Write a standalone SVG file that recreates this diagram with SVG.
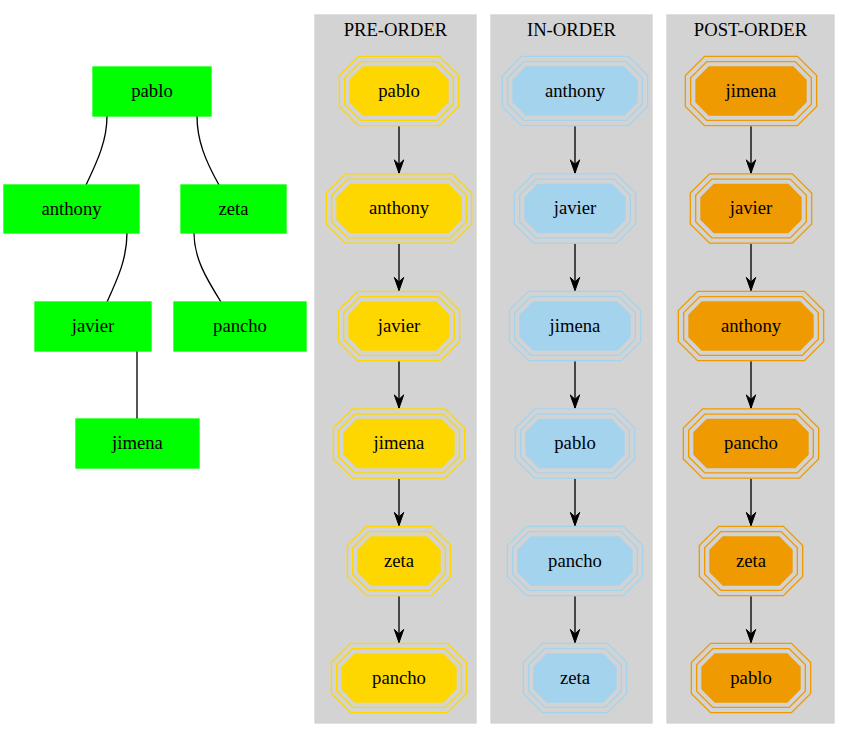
<svg xmlns="http://www.w3.org/2000/svg" xmlns:xlink="http://www.w3.org/1999/xlink" width="849" height="740" viewBox="0 0 849 740">
  <style>
    text { font-family: "Liberation Serif", "Times New Roman", serif; font-size: 18.67px; fill: #000; stroke: none; text-anchor: middle; }
    .box { fill: #00ff00; stroke: #00ff00; stroke-width: 1.33; }
    .cluster { fill: #d3d3d3; stroke: #d3d3d3; stroke-width: 1.33; }
    .tree-edge { fill: none; stroke: #000; stroke-width: 1.33; }
    .order-edge { fill: none; stroke: #000; stroke-width: 1.33; marker-end: url(#vee); }
    /* triple-periphery octagons: outer rings drawn as layered strokes of one outline */
    .ring3 { fill: none; stroke-width: 22.67; }
    .gap3 { fill: none; stroke: #d3d3d3; stroke-width: 20; }
    .ring2 { fill: none; stroke-width: 12; }
    .gap2 { fill: none; stroke: #d3d3d3; stroke-width: 9.33; }
    .core { stroke-width: 1.33; }
    .pre { fill: #ffd700; stroke: #ffd700; }
    .in { fill: #a4d3ee; stroke: #a4d3ee; }
    .post { fill: #ee9a00; stroke: #ee9a00; }
  </style>
  <defs>
    <marker id="vee" markerUnits="userSpaceOnUse" markerWidth="16" markerHeight="12" viewBox="0 -6 14 12" refX="13.3" refY="0" orient="auto">
      <path d="M0,-4.7 L13.3,0 L0,4.7 L4.4,0 Z" fill="#000" stroke="#000" stroke-width="1"/>
    </marker>
    <polygon id="oct-zeta" points="-28,-24 28,-24 41,-11 41,11 28,24 -28,24 -41,11 -41,-11"/>
    <polygon id="oct-pablo" points="-36,-24 36,-24 49,-11 49,11 36,24 -36,24 -49,11 -49,-11"/>
    <polygon id="oct-javier" points="-37,-24 37,-24 50,-11 50,11 37,24 -37,24 -50,11 -50,-11"/>
    <polygon id="oct-jimena" points="-42,-24 42,-24 55,-11 55,11 42,24 -42,24 -55,11 -55,-11"/>
    <polygon id="oct-pancho" points="-44,-24 44,-24 57,-11 57,11 44,24 -44,24 -57,11 -57,-11"/>
    <polygon id="oct-anthony" points="-49,-24 49,-24 62,-11 62,11 49,24 -49,24 -62,11 -62,-11"/>
  </defs>

  <rect width="849" height="740" fill="#ffffff"/>

  <!-- traversal clusters -->
  <g id="cluster_pre">
    <rect class="cluster" x="315" y="15" width="161" height="708"/>
    <text x="395.5" y="35.5">PRE-ORDER</text>
  </g>
  <g id="cluster_in">
    <rect class="cluster" x="491" y="15" width="161" height="708"/>
    <text x="571.5" y="35.5">IN-ORDER</text>
  </g>
  <g id="cluster_post">
    <rect class="cluster" x="667" y="15" width="167" height="708"/>
    <text x="750.5" y="35.5">POST-ORDER</text>
  </g>

  <!-- connectors -->
  <g id="edges">
    <path class="tree-edge" d="M107,116 C107,140 98,160 86,185"/>
    <path class="tree-edge" d="M197,116 C197,140 205,160 219,185"/>
    <path class="tree-edge" d="M127,233 C127,258 118,278 107,302"/>
    <path class="tree-edge" d="M194,233 C194,258 206,278 221,302"/>
    <path class="tree-edge" d="M137,351 L137,419"/>

    <path class="order-edge" d="M399,126.3 L399,173.2"/>
    <path class="order-edge" d="M399,243.8 L399,290.7"/>
    <path class="order-edge" d="M399,361.3 L399,408.2"/>
    <path class="order-edge" d="M399,478.8 L399,525.7"/>
    <path class="order-edge" d="M399,596.3 L399,642.7"/>

    <path class="order-edge" d="M575,126.3 L575,173.2"/>
    <path class="order-edge" d="M575,243.8 L575,290.7"/>
    <path class="order-edge" d="M575,361.3 L575,408.2"/>
    <path class="order-edge" d="M575,478.8 L575,525.7"/>
    <path class="order-edge" d="M575,596.3 L575,642.7"/>

    <path class="order-edge" d="M751,126.3 L751,173.2"/>
    <path class="order-edge" d="M751,243.8 L751,290.7"/>
    <path class="order-edge" d="M751,361.3 L751,408.2"/>
    <path class="order-edge" d="M751,478.8 L751,525.7"/>
    <path class="order-edge" d="M751,596.3 L751,642.7"/>
  </g>

  <!-- binary tree -->
  <g id="tree_pablo"><rect class="box" x="93" y="67" width="118" height="49"/><text x="152" y="97">pablo</text></g>
  <g id="tree_anthony"><rect class="box" x="4" y="185" width="135" height="48"/><text x="71.5" y="214.5">anthony</text></g>
  <g id="tree_zeta"><rect class="box" x="181" y="185" width="105" height="48"/><text x="233.5" y="214.5">zeta</text></g>
  <g id="tree_javier"><rect class="box" x="35" y="302" width="116" height="49"/><text x="93" y="332">javier</text></g>
  <g id="tree_pancho"><rect class="box" x="174" y="302" width="132" height="49"/><text x="240" y="332">pancho</text></g>
  <g id="tree_jimena"><rect class="box" x="76" y="419" width="123" height="49"/><text x="137.5" y="449">jimena</text></g>

  <!-- pre-order -->
  <g id="pre_pablo" class="pre" transform="translate(399,91)">
    <use xlink:href="#oct-pablo" class="ring3"/><use xlink:href="#oct-pablo" class="gap3"/><use xlink:href="#oct-pablo" class="ring2"/><use xlink:href="#oct-pablo" class="gap2"/><use xlink:href="#oct-pablo" class="core"/>
    <text y="5.5">pablo</text>
  </g>
  <g id="pre_anthony" class="pre" transform="translate(399,208.5)">
    <use xlink:href="#oct-anthony" class="ring3"/><use xlink:href="#oct-anthony" class="gap3"/><use xlink:href="#oct-anthony" class="ring2"/><use xlink:href="#oct-anthony" class="gap2"/><use xlink:href="#oct-anthony" class="core"/>
    <text y="5.5">anthony</text>
  </g>
  <g id="pre_javier" class="pre" transform="translate(399,326)">
    <use xlink:href="#oct-javier" class="ring3"/><use xlink:href="#oct-javier" class="gap3"/><use xlink:href="#oct-javier" class="ring2"/><use xlink:href="#oct-javier" class="gap2"/><use xlink:href="#oct-javier" class="core"/>
    <text y="5.5">javier</text>
  </g>
  <g id="pre_jimena" class="pre" transform="translate(399,443.5)">
    <use xlink:href="#oct-jimena" class="ring3"/><use xlink:href="#oct-jimena" class="gap3"/><use xlink:href="#oct-jimena" class="ring2"/><use xlink:href="#oct-jimena" class="gap2"/><use xlink:href="#oct-jimena" class="core"/>
    <text y="5.5">jimena</text>
  </g>
  <g id="pre_zeta" class="pre" transform="translate(399,561)">
    <use xlink:href="#oct-zeta" class="ring3"/><use xlink:href="#oct-zeta" class="gap3"/><use xlink:href="#oct-zeta" class="ring2"/><use xlink:href="#oct-zeta" class="gap2"/><use xlink:href="#oct-zeta" class="core"/>
    <text y="5.5">zeta</text>
  </g>
  <g id="pre_pancho" class="pre" transform="translate(399,678)">
    <use xlink:href="#oct-pancho" class="ring3"/><use xlink:href="#oct-pancho" class="gap3"/><use xlink:href="#oct-pancho" class="ring2"/><use xlink:href="#oct-pancho" class="gap2"/><use xlink:href="#oct-pancho" class="core"/>
    <text y="5.5">pancho</text>
  </g>

  <!-- in-order -->
  <g id="in_anthony" class="in" transform="translate(575,91)">
    <use xlink:href="#oct-anthony" class="ring3"/><use xlink:href="#oct-anthony" class="gap3"/><use xlink:href="#oct-anthony" class="ring2"/><use xlink:href="#oct-anthony" class="gap2"/><use xlink:href="#oct-anthony" class="core"/>
    <text y="5.5">anthony</text>
  </g>
  <g id="in_javier" class="in" transform="translate(575,208.5)">
    <use xlink:href="#oct-javier" class="ring3"/><use xlink:href="#oct-javier" class="gap3"/><use xlink:href="#oct-javier" class="ring2"/><use xlink:href="#oct-javier" class="gap2"/><use xlink:href="#oct-javier" class="core"/>
    <text y="5.5">javier</text>
  </g>
  <g id="in_jimena" class="in" transform="translate(575,326)">
    <use xlink:href="#oct-jimena" class="ring3"/><use xlink:href="#oct-jimena" class="gap3"/><use xlink:href="#oct-jimena" class="ring2"/><use xlink:href="#oct-jimena" class="gap2"/><use xlink:href="#oct-jimena" class="core"/>
    <text y="5.5">jimena</text>
  </g>
  <g id="in_pablo" class="in" transform="translate(575,443.5)">
    <use xlink:href="#oct-pablo" class="ring3"/><use xlink:href="#oct-pablo" class="gap3"/><use xlink:href="#oct-pablo" class="ring2"/><use xlink:href="#oct-pablo" class="gap2"/><use xlink:href="#oct-pablo" class="core"/>
    <text y="5.5">pablo</text>
  </g>
  <g id="in_pancho" class="in" transform="translate(575,561)">
    <use xlink:href="#oct-pancho" class="ring3"/><use xlink:href="#oct-pancho" class="gap3"/><use xlink:href="#oct-pancho" class="ring2"/><use xlink:href="#oct-pancho" class="gap2"/><use xlink:href="#oct-pancho" class="core"/>
    <text y="5.5">pancho</text>
  </g>
  <g id="in_zeta" class="in" transform="translate(575,678)">
    <use xlink:href="#oct-zeta" class="ring3"/><use xlink:href="#oct-zeta" class="gap3"/><use xlink:href="#oct-zeta" class="ring2"/><use xlink:href="#oct-zeta" class="gap2"/><use xlink:href="#oct-zeta" class="core"/>
    <text y="5.5">zeta</text>
  </g>

  <!-- post-order -->
  <g id="post_jimena" class="post" transform="translate(751,91)">
    <use xlink:href="#oct-jimena" class="ring3"/><use xlink:href="#oct-jimena" class="gap3"/><use xlink:href="#oct-jimena" class="ring2"/><use xlink:href="#oct-jimena" class="gap2"/><use xlink:href="#oct-jimena" class="core"/>
    <text y="5.5">jimena</text>
  </g>
  <g id="post_javier" class="post" transform="translate(751,208.5)">
    <use xlink:href="#oct-javier" class="ring3"/><use xlink:href="#oct-javier" class="gap3"/><use xlink:href="#oct-javier" class="ring2"/><use xlink:href="#oct-javier" class="gap2"/><use xlink:href="#oct-javier" class="core"/>
    <text y="5.5">javier</text>
  </g>
  <g id="post_anthony" class="post" transform="translate(751,326)">
    <use xlink:href="#oct-anthony" class="ring3"/><use xlink:href="#oct-anthony" class="gap3"/><use xlink:href="#oct-anthony" class="ring2"/><use xlink:href="#oct-anthony" class="gap2"/><use xlink:href="#oct-anthony" class="core"/>
    <text y="5.5">anthony</text>
  </g>
  <g id="post_pancho" class="post" transform="translate(751,443.5)">
    <use xlink:href="#oct-pancho" class="ring3"/><use xlink:href="#oct-pancho" class="gap3"/><use xlink:href="#oct-pancho" class="ring2"/><use xlink:href="#oct-pancho" class="gap2"/><use xlink:href="#oct-pancho" class="core"/>
    <text y="5.5">pancho</text>
  </g>
  <g id="post_zeta" class="post" transform="translate(751,561)">
    <use xlink:href="#oct-zeta" class="ring3"/><use xlink:href="#oct-zeta" class="gap3"/><use xlink:href="#oct-zeta" class="ring2"/><use xlink:href="#oct-zeta" class="gap2"/><use xlink:href="#oct-zeta" class="core"/>
    <text y="5.5">zeta</text>
  </g>
  <g id="post_pablo" class="post" transform="translate(751,678)">
    <use xlink:href="#oct-pablo" class="ring3"/><use xlink:href="#oct-pablo" class="gap3"/><use xlink:href="#oct-pablo" class="ring2"/><use xlink:href="#oct-pablo" class="gap2"/><use xlink:href="#oct-pablo" class="core"/>
    <text y="5.5">pablo</text>
  </g>
</svg>
